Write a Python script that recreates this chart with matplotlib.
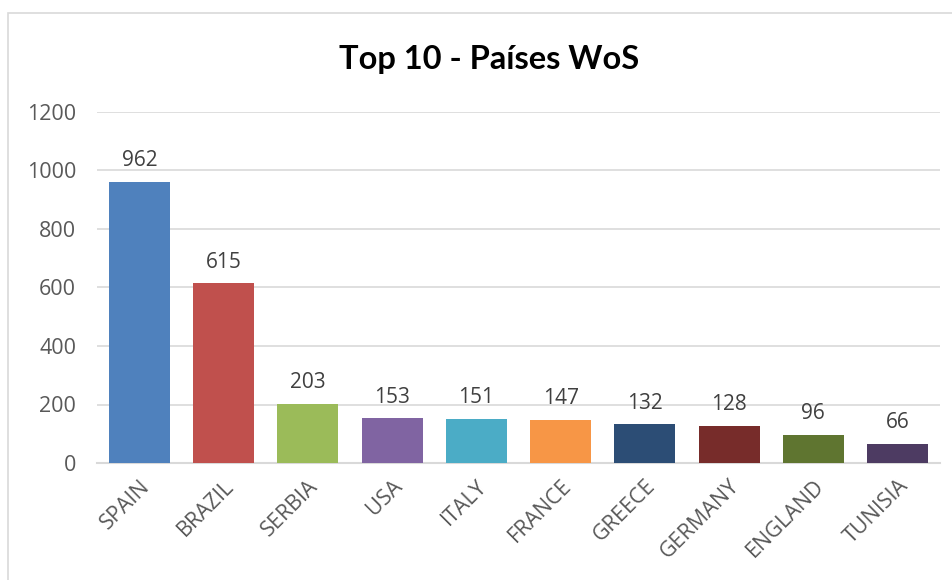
import matplotlib
matplotlib.use("Agg")
import matplotlib.pyplot as plt
from matplotlib.patches import Rectangle

# data
countries = ["SPAIN", "BRAZIL", "SERBIA", "USA", "ITALY",
             "FRANCE", "GREECE", "GERMANY", "ENGLAND", "TUNISIA"]
counts = [962, 615, 203, 153, 151, 147, 132, 128, 96, 66]
colors = ["#4F81BD", "#C0504D", "#9BBB59", "#8064A2", "#4BACC6",
          "#F79646", "#2C4D75", "#772C2A", "#5F7530", "#4D3B62"]
yticks = [0, 200, 400, 600, 800, 1000, 1200]

plt.rcParams["font.family"] = ["Open Sans", "DejaVu Sans"]

fig = plt.figure(figsize=(9.52, 5.8), dpi=100)
ax = fig.add_axes([97 / 952, 1 - 463 / 580, 843 / 952, 351 / 580])

x = range(len(countries))
bars = ax.bar(x, counts, width=0.725, color=colors, zorder=3)

# value labels above bars
for b, v in zip(bars, counts):
    ax.text(b.get_x() + b.get_width() / 2, v + 36, str(v),
            ha="center", va="bottom", fontsize=15, color="#404040")

ax.set_xlim(-0.505, len(countries) - 0.495)
ax.set_ylim(0, 1200)
ax.set_yticks(yticks)
ax.set_yticklabels([str(t) for t in yticks], fontsize=15.5, color="#595959")
ax.set_xticks(list(x))
ax.set_xticklabels(countries, rotation=45, ha="right", rotation_mode="anchor",
                   fontsize=15.5, color="#595959")
ax.tick_params(axis="y", length=0, pad=15)
ax.tick_params(axis="x", length=0, pad=9)

ax.grid(axis="y", color="#D9D9D9", linewidth=1.2, zorder=0)
for side in ["top", "right", "left"]:
    ax.spines[side].set_visible(False)
ax.spines["bottom"].set_color("#D9D9D9")
ax.spines["bottom"].set_linewidth(1.5)

fig.text(489 / 952, 1 - 60 / 580, "Top 10 - Países WoS", ha="center",
         va="center", fontsize=23.5, fontweight="bold", color="black",
         family=["Lato", "DejaVu Sans"])

# outer chart frame
fig.patches.append(Rectangle((8 / 952, -0.1), 1.2, 1 - 13 / 580 + 0.1,
                             transform=fig.transFigure, fill=False,
                             edgecolor="#D9D9D9", linewidth=1.2))

fig.savefig("out.png", dpi=100)
